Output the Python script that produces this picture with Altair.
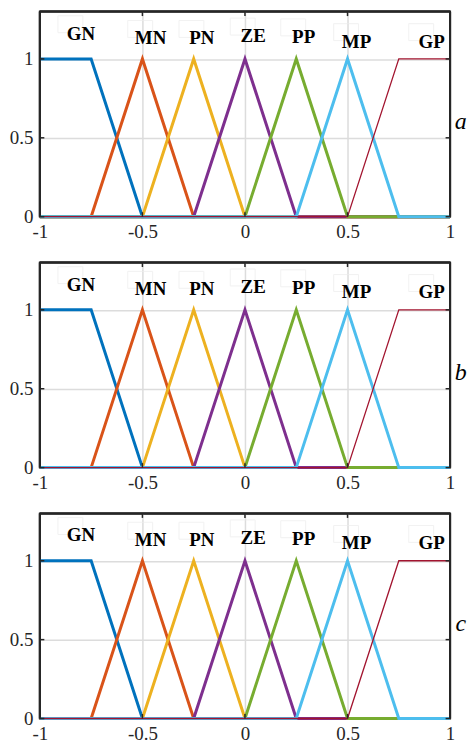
import altair as alt
import pandas as pd

# ---- data ----
x_breaks = [-1, -0.75, -0.5, -0.25, 0, 0.25, 0.5, 0.75, 1]
set_names = ["GN", "MN", "PN", "ZE", "PP", "MP", "GP"]
mu_GN = [1, 1, 0, 0, 0, 0, 0, 0, 0]
mu_MN = [0, 0, 1, 0, 0, 0, 0, 0, 0]
mu_PN = [0, 0, 0, 1, 0, 0, 0, 0, 0]
mu_ZE = [0, 0, 0, 0, 1, 0, 0, 0, 0]
mu_PP = [0, 0, 0, 0, 0, 1, 0, 0, 0]
mu_MP = [0, 0, 0, 0, 0, 0, 1, 0, 0]
mu_GP = [0, 0, 0, 0, 0, 0, 0, 1, 1]
memberships = [mu_GN, mu_MN, mu_PN, mu_ZE, mu_PP, mu_MP, mu_GP]
colors = ["#0072BD", "#D95319", "#EDB120", "#7E2F8E", "#77AC30", "#4DBEEE", "#A2142F"]
label_x = [-0.80, -0.46, -0.21, 0.04, 0.286, 0.544, 0.91]
label_y = [1.16, 1.13, 1.13, 1.145, 1.14, 1.11, 1.11]
panel_tags = ["a", "b", "c"]
tag_x = [1.052]
tag_y = [0.60]
x_domain = [-1, 1]
y_domain = [0, 1.3]
x_ticks = [-1, -0.5, 0, 0.5, 1]
y_ticks = [0, 0.5, 1]

# ---- style ----
W, H = 412, 206
FONT = "Liberation Serif"
DARK = "#262626"
TICK = 4.5
line_widths = [3, 3, 3, 3, 3, 3, 1.3]

xscale = alt.Scale(domain=x_domain, nice=False, zero=False)
yscale = alt.Scale(domain=y_domain, nice=False, zero=False)

labels_df = pd.DataFrame({"name": set_names, "x": label_x, "y": label_y})
xt_df = pd.DataFrame({"x": x_ticks})
yt_df = pd.DataFrame({"y": y_ticks})
vf_df = pd.DataFrame({"x": x_domain, "y": [y_domain[0]] * 2, "y2": [y_domain[1]] * 2})
hf_df = pd.DataFrame({"y": y_domain, "x": [x_domain[0]] * 2, "x2": [x_domain[1]] * 2})

X = alt.X("x:Q", scale=xscale)
Y = alt.Y("y:Q", scale=yscale)

x_edge = "datum.value <= -1 || datum.value >= 1"
y_edge = "datum.value <= 0"


def panel(tag):
    xaxis = alt.Axis(values=x_ticks, grid=True, gridColor="#dcdcdc", gridWidth=1.5,
                     gridOpacity=alt.condition(x_edge, alt.value(0), alt.value(1)),
                     ticks=False, domain=False, labelExpr="'' + datum.value",
                     labelFont=FONT, labelFontSize=19, labelColor=DARK,
                     labelPadding=6, title=None, labelFlush=False, zindex=0)
    yaxis = alt.Axis(values=y_ticks, grid=True, gridColor="#dcdcdc", gridWidth=1.5,
                     gridOpacity=alt.condition(y_edge, alt.value(0), alt.value(1)),
                     ticks=False, domain=False, labelExpr="'' + datum.value",
                     labelFont=FONT, labelFontSize=19, labelColor=DARK,
                     labelPadding=7, title=None, zindex=0)

    layers = []
    # invisible layer carrying axes + grid
    layers.append(alt.Chart(labels_df).mark_point(opacity=0).encode(
        x=alt.X("x:Q", scale=xscale, axis=xaxis), y=alt.Y("y:Q", scale=yscale, axis=yaxis)))

    # faint text boxes
    layers.append(
        alt.Chart(labels_df).mark_point(
            shape="M-1,-0.68L1,-0.68L1,0.68L-1,0.68Z", size=625, filled=False,
            stroke="#ededed", strokeWidth=1, xOffset=-10.5, yOffset=-9.5
        ).encode(x=X, y=Y)
    )

    # axes box
    layers.append(alt.Chart(vf_df).mark_rule(color=DARK, strokeWidth=2).encode(
        x=X, y=Y, y2="y2:Q"))
    layers.append(alt.Chart(hf_df).mark_rule(color=DARK, strokeWidth=2).encode(
        y=Y, x=X, x2="x2:Q"))

    # membership lines
    for name, mu, col, lw in zip(set_names, memberships, colors, line_widths):
        df = pd.DataFrame({"x": x_breaks, "y": mu})
        layers.append(
            alt.Chart(df).mark_line(color=col, strokeWidth=lw).encode(x=X, y=Y)
        )

    # set labels
    layers.append(
        alt.Chart(labels_df).mark_text(font=FONT, fontSize=19, fontWeight="bold",
                                       color="black", baseline="middle", align="center").encode(
            x=X, y=Y, text="name:N")
    )

    # inward ticks
    layers.append(alt.Chart(yt_df).mark_rule(color=DARK, strokeWidth=1.5).encode(
        y=Y, x=alt.value(0), x2=alt.value(TICK)))
    layers.append(alt.Chart(yt_df).mark_rule(color=DARK, strokeWidth=1.5).encode(
        y=Y, x=alt.value(W - TICK), x2=alt.value(W)))
    layers.append(alt.Chart(xt_df).mark_rule(color=DARK, strokeWidth=1.5).encode(
        x=X, y=alt.value(H - TICK), y2=alt.value(H)))
    layers.append(alt.Chart(xt_df).mark_rule(color=DARK, strokeWidth=1.5).encode(
        x=X, y=alt.value(0), y2=alt.value(TICK)))

    # top, left and right edges again on top of everything (bottom stays under the lines)
    layers.append(alt.Chart(vf_df).mark_rule(color=DARK, strokeWidth=2).encode(
        x=X, y=Y, y2="y2:Q"))
    layers.append(alt.Chart(hf_df.iloc[1:]).mark_rule(color=DARK, strokeWidth=2).encode(
        y=Y, x=X, x2="x2:Q"))

    # panel tag
    tag_df = pd.DataFrame({"x": tag_x, "y": tag_y, "t": [tag]})
    layers.append(alt.Chart(tag_df).mark_text(font=FONT, fontSize=24, fontStyle="italic",
                                              color="black", baseline="middle", align="center").encode(
        x=X, y=Y, text="t:N"))

    return alt.layer(*layers).properties(width=W, height=H)


chart = alt.vconcat(*[panel(t) for t in panel_tags], spacing=18).properties(
    padding={"left": 0, "top": 0, "right": 0, "bottom": 0},
    background="white",
).configure_view(stroke=DARK, strokeWidth=2)

chart.save("out.html", embed_options={"renderer": "svg", "actions": False})
